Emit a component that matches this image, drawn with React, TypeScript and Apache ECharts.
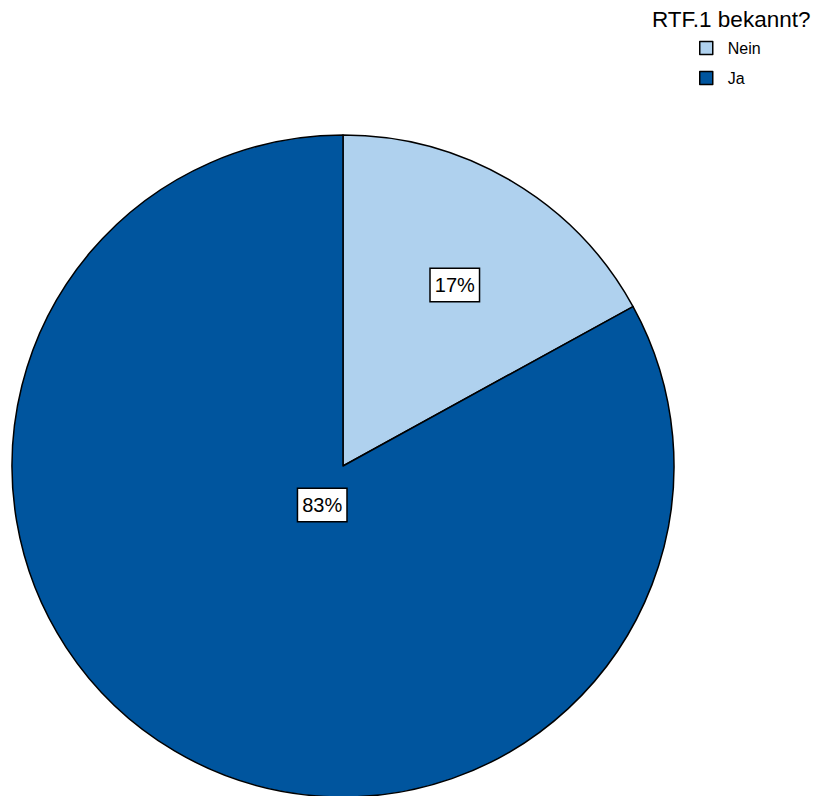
import React, { useEffect, useRef } from "react";
import * as echarts from "echarts";

const categories = ["Nein", "Ja"];
const values = [17, 83];
const colors = ["#AFD1EE", "#00559E"];
const legendTitle = "RTF.1 bekannt?";

export default function App() {
  const ref = useRef<HTMLDivElement>(null);
  useEffect(() => {
    if (!ref.current) return;
    const chart = echarts.init(ref.current, undefined, { renderer: "svg" });
    const labelOffsets = [
      [26, -36],
      [65, -106],
    ];
    chart.setOption({
      animation: false,
      title: {
        text: legendTitle,
        left: 652,
        top: 8,
        padding: 0,
        textStyle: { fontSize: 22.5, fontWeight: "normal", color: "#000", fontFamily: "Liberation Sans, Arial, sans-serif" },
      },
      legend: {
        orient: "vertical",
        left: 699,
        top: 39,
        padding: 0,
        itemGap: 12,
        itemWidth: 13,
        itemHeight: 13,
        icon: "rect",
        data: categories,
        itemStyle: { borderColor: "#000", borderWidth: 1.5 },
        textStyle: { fontSize: 16, lineHeight: 18, color: "#000", fontFamily: "Liberation Sans, Arial, sans-serif", padding: [0, 0, 0, 10] },
      },
      series: [
        {
          type: "pie",
          center: [343, 466],
          radius: [0, 331],
          startAngle: 90,
          clockwise: true,
          silent: true,
          itemStyle: { borderColor: "#000", borderWidth: 1.5 },
          labelLine: { show: false },
          data: categories.map((c, i) => ({
            name: c,
            value: values[i],
            itemStyle: { color: colors[i] },
            label: {
              show: true,
              position: "inside",
              rotate: 0,
              offset: labelOffsets[i],
              formatter: `${values[i]}%`,
              fontSize: 20,
              color: "#000",
              fontFamily: "Liberation Sans, Arial, sans-serif",
              backgroundColor: "#fff",
              borderColor: "#000",
              borderWidth: 1.5,
              padding: [5, 4, 5, 4],
              lineHeight: 22,
            },
          })),
        },
      ],
    });
    return () => chart.dispose();
  }, []);
  return (
    <div
      ref={ref}
      style={{ position: "fixed", left: 0, top: 0, width: 816, height: 796, background: "#fff" }}
    />
  );
}
